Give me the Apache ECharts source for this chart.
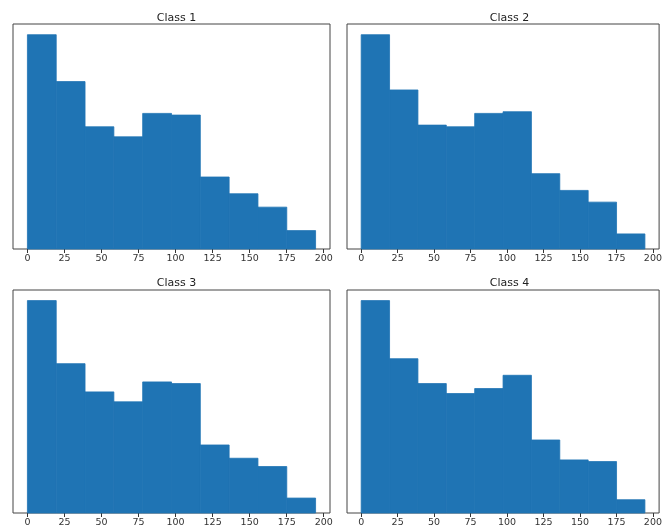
<!DOCTYPE html>
<html>
<head>
<meta charset="utf-8">
<script src="https://cdn.jsdelivr.net/npm/echarts@6/dist/echarts.min.js"></script>
<style>
html,body{margin:0;padding:0;background:#fff;}
#chart{width:665px;height:531px;}
</style>
</head>
<body>
<div id="chart"></div>
<script>
// Data
const titles = ["Class 1", "Class 2", "Class 3", "Class 4"];
const binEdges = [0, 19.45, 38.9, 58.35, 77.8, 97.25, 116.7, 136.15, 155.6, 175.05, 194.5];
const tickValues = [0, 25, 50, 75, 100, 125, 150, 175, 200];
const class1 = [128, 100, 73, 67, 81, 80, 43, 33, 25, 11];
const class2 = [128, 95, 74, 73, 81, 82, 45, 35, 28, 9];
const class3 = [128, 90, 73, 67, 79, 78, 41, 33, 28, 9];
const class4 = [128, 93, 78, 72, 75, 83, 44, 32, 31, 8];
const allCounts = [class1, class2, class3, class4];

const grids = [
  {left: 13, top: 24, width: 317, height: 225},
  {left: 347, top: 24, width: 315, height: 225},
  {left: 13, top: 290, width: 317, height: 223},
  {left: 347, top: 290, width: 315, height: 223}
];
const titleTops = [8, 8, 273, 273];

const xMin = -0.05 * binEdges[binEdges.length - 1];
const xMax = binEdges[binEdges.length - 1] * 1.05;

const option = {
  animation: false,
  backgroundColor: '#fff',
  title: titles.map((t, i) => ({
    text: t,
    left: grids[i].left + grids[i].width / 2,
    top: titleTops[i],
    textAlign: 'center',
    textStyle: {fontFamily: 'DejaVu Sans', fontSize: 11, fontWeight: 'normal', color: '#222'}
  })),
  grid: grids.map(g => Object.assign({show: true, borderColor: '#444', borderWidth: 1, backgroundColor: 'transparent'}, g)),
  xAxis: grids.map((g, i) => ({
    type: 'value', gridIndex: i, min: xMin, max: xMax,
    splitLine: {show: false},
    axisLine: {show: false},
    axisTick: {show: true, customValues: tickValues, length: 4, lineStyle: {color: '#333'}},
    axisLabel: {customValues: tickValues, fontFamily: 'DejaVu Sans', fontSize: 9.5, color: '#333', margin: 5}
  })),
  yAxis: grids.map((g, i) => ({
    type: 'value', gridIndex: i, min: 0, max: Math.max(...allCounts[i]) * 1.05,
    show: false, splitLine: {show: false}
  })),
  series: allCounts.map((counts, i) => ({
    type: 'custom',
    xAxisIndex: i, yAxisIndex: i,
    data: counts.map((c, k) => [binEdges[k], binEdges[k + 1], c]),
    encode: {x: [0, 1], y: 2},
    renderItem: function (params, api) {
      const p0 = api.coord([api.value(0), 0]);
      const p1 = api.coord([api.value(1), api.value(2)]);
      return {
        type: 'rect',
        shape: {x: p0[0], y: p1[1], width: p1[0] - p0[0], height: p0[1] - p1[1]},
        style: {fill: '#1f74b4', stroke: '#1f74b4', lineWidth: 0.8}
      };
    }
  }))
};

const chart = echarts.init(document.getElementById('chart'), null, {renderer: 'canvas'});
chart.setOption(option);
</script>
</body>
</html>
